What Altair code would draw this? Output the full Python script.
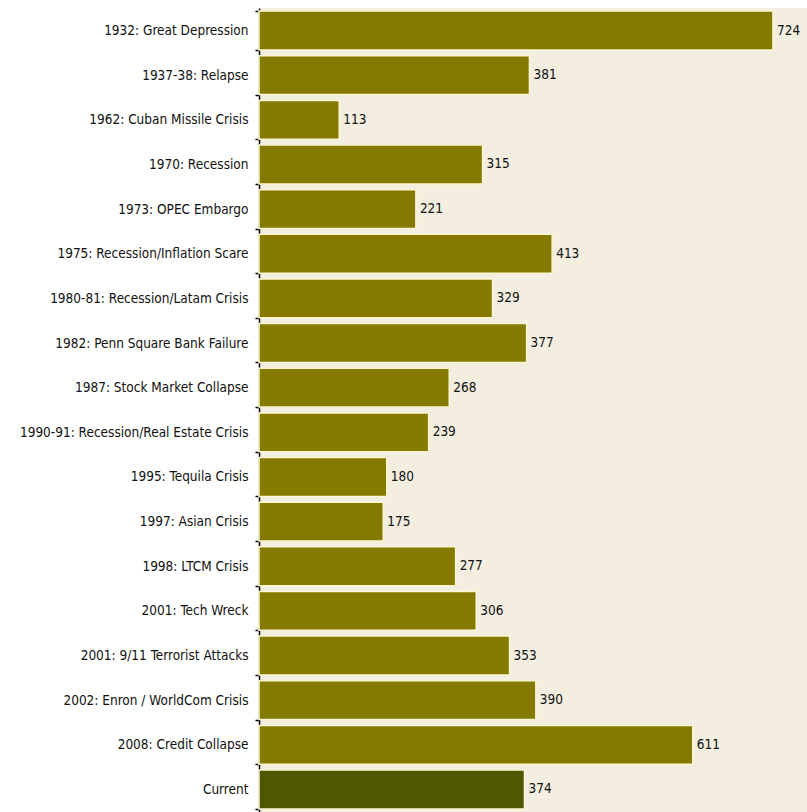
import altair as alt
import pandas as pd

events = [
    "1932: Great Depression", "1937-38: Relapse", "1962: Cuban Missile Crisis",
    "1970: Recession", "1973: OPEC Embargo", "1975: Recession/Inflation Scare",
    "1980-81: Recession/Latam Crisis", "1982: Penn Square Bank Failure",
    "1987: Stock Market Collapse", "1990-91: Recession/Real Estate Crisis",
    "1995: Tequila Crisis", "1997: Asian Crisis", "1998: LTCM Crisis",
    "2001: Tech Wreck", "2001: 9/11 Terrorist Attacks",
    "2002: Enron / WorldCom Crisis", "2008: Credit Collapse", "Current",
]
values = [724, 381, 113, 315, 221, 413, 329, 377, 268, 239, 180, 175, 277, 306, 353, 390, 611, 374]
is_current = [False] * 17 + [True]

df = pd.DataFrame({"event": events, "value": values, "current": is_current})

FONT = "DejaVu Sans Condensed, Liberation Sans Narrow, sans-serif"

y = alt.Y("event:N", sort=None, title=None,
          scale=alt.Scale(paddingInner=0.13, paddingOuter=0.07),
          axis=alt.Axis(labelFont=FONT, labelFontSize=13.5, labelColor="#111",
                        domainColor="#000", domainWidth=1.5, tickColor="#000",
                        tickSize=4, tickWidth=1.5, tickBand="extent",
                        labelPadding=7, labelLimit=300))
x = alt.X("value:Q", scale=alt.Scale(domain=[0, 772], nice=False, zero=True),
          axis=None)

bars = alt.Chart(df).mark_bar(stroke="#fcf6d2", strokeWidth=1.5).encode(
    x=x, y=y,
    color=alt.Color("current:N", scale=alt.Scale(domain=[False, True],
                                                 range=["#857a00", "#4f5700"]),
                    legend=None),
)

labels = alt.Chart(df).mark_text(align="left", baseline="middle", dx=4,
                                 font=FONT, fontSize=13.5, color="#111").encode(
    x=x, y=y, text="value:Q",
)

chart = (bars + labels).properties(
    width=548, height=804,
    background="white",
    padding={"left": 259, "top": 8, "right": 0, "bottom": 0},
    autosize=alt.AutoSizeParams(type="none"),
).configure_view(fill="#f3eee0", stroke=None)

chart.save("out.html", embed_options={"renderer": "svg", "actions": False})
